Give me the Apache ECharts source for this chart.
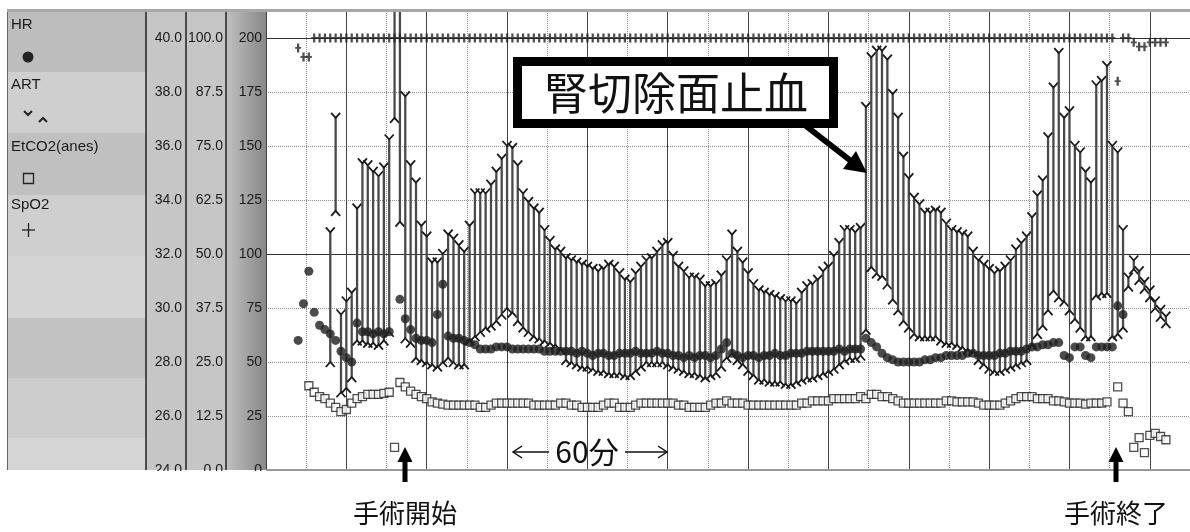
<!DOCTYPE html>
<html>
<head>
<meta charset="utf-8">
<script src="https://cdn.jsdelivr.net/npm/echarts@6/dist/echarts.min.js"></script>
<style>
html, body { margin: 0; padding: 0; background: #fff; }
#main { width: 1190px; height: 532px; }
</style>
</head>
<body>
<div id="main"></div>
<script>
// one reading every 2 min, first one at minute 12
var startMin = 12, stepMin = 2;

// HR (bpm)
var hr = [
  60, 77, 92, 73, 67, 65, 63, 60, 55, 52,
  50, 68, 64, 64, 63, 64, 63, 64, null, 79,
  70, 65, 61, 60, 60, 59, 72, 86, 62, 61,
  61, 60, 59, 58, 56, 56, 56, 57, 57, 57,
  56, 56, 56, 56, 56, 56, 55, 55, 55, 55,
  55, 55, 54, 55, 54, 53, 54, 54, 53, 53,
  54, 54, 54, 55, 54, 54, 54, 55, 54, 54,
  53, 53, 52, 53, 52, 53, 53, 52, 53, 56,
  59, 54, 53, 52, 53, 53, 52, 53, 53, 54,
  53, 53, 54, 54, 54, 55, 55, 55, 55, 55,
  55, 56, 55, 56, 56, 56, 61, 59, 57, 54,
  52, 51, 50, 50, 50, 50, 50, 51, 51, 52,
  52, 53, 53, 53, 53, 54, 54, 53, 53, 53,
  53, 54, 54, 55, 55, 55, 56, 57, 57, 58,
  58, 59, 59, 53, 52, 57, 57, 53, 52, 57,
  57, 57, 57, 76, 72, null, null, null, null, null,
  null, null, null
];

// EtCO2 (mmHg)
var etco2 = [
  null, null, 39, 36, 34, 33, 31, 29, 27, 28,
  31, 33, 34, 35, 35, 35, 35.5, 36, 10.5, 40.5,
  38.5, 36.5, 35, 34, 33, 31.5, 31, 30.5, 30, 30,
  30, 30, 30, 30, 29, 29, 30, 31, 31, 31,
  31, 31, 31, 31, 30, 30, 30, 30, 30, 31,
  31, 30, 30, 29, 29, 29, 29, 30, 31, 31,
  29, 29, 29, 30, 31, 31, 31, 31, 31, 31,
  31, 30, 30, 29, 29, 29, 29, 30, 31, 31,
  32, 31, 31, 31, 30, 30, 30, 30, 30, 30,
  30, 30, 30, 30, 31, 31, 32, 32, 32, 32,
  33, 33, 33, 33, 33, 34, 33, 35, 35, 34,
  34, 33, 32, 31, 31, 31, 31, 31, 31, 31,
  31, 32, 32, 31.5, 31.5, 31.5, 31.5, 31, 30, 30,
  30, 30, 31, 32, 33, 34, 34, 34, 33, 33,
  33, 32, 32, 31.5, 31, 31, 31, 30.5, 31, 31,
  31, 31.5, null, 38.5, 31, 27, 10.5, 15, 8, 16,
  17, 15.5, 14
];

// ART systolic / diastolic (mmHg)
var artSys = [
  null, null, null, null, null, null, 110, 163, 72, 78,
  82, 121, 142, 141, 138, 136, 140, 153, 218, 218,
  173, 141, 133, 113, 108, 96, 96, 100, 109, 107,
  104, 101, 113, 128, 128, 128, 132, 138, 144, 150,
  149, 141, 128, 124, 121, 119, 111, 106, 102, 101,
  98, 97, 96, 95, 94, 93, 92, 93, 95, 94,
  91, 88, 87, 91, 94, 97, 98, 101, 104, 105,
  99, 94, 92, 89, 89, 88, 85, 85, 86, 90,
  97, 109, 101, 96, 91, 86, 83, 82, 81, 80,
  79, 78, 78, 77, 82, 85, 86, 88, 92, 94,
  99, 105, 111, 111, 110, 112, 168, 191, 194, 194,
  190, 174, 163, 145, 135, 126, 123, 119, 119, 120,
  119, 114, 111, 110, 109, 108, 101, 97, 95, 93,
  91, 92, 94, 97, 102, 105, 108, 117, 127, 134,
  154, 177, 193, 163, 166, 150, 147, 138, 133, 178,
  180, 187, 150, 147, 111, 89, 97, 92, 87, 83,
  78, 74, 71
];
var artDia = [
  null, null, null, null, null, null, 50, 120, 36, 38,
  43, 60, 60, 59, 59, 58, 60, 64, 163, 115,
  61, 59, 52, 51, 50, 49, 48, 50, 52, 50,
  49, 49, 60, 62, 64, 66, 67, 69, 72, 75,
  73, 69, 66, 64, 62, 61, 60, 59, 58, 56,
  51, 50, 49, 48, 48, 47, 46, 46, 45, 45,
  45, 44, 44, 46, 48, 50, 50, 50, 50, 49,
  48, 47, 46, 45, 45, 44, 43, 44, 45, 48,
  52, 54, 51, 49, 46, 44, 42, 42, 41, 41,
  41, 40, 40, 41, 42, 43, 43, 44, 45, 46,
  47, 49, 51, 52, 52, 53, 65, 94, 91, 90,
  86, 79, 74, 69, 66, 63, 62, 62, 62, 62,
  60, 59, 59, 58, 57, 56, 55, 51, 49, 47,
  46, 46, 47, 48, 49, 50, 51, 58, 63, 67,
  74, 83, 80, 78, 74, 70, 66, 62, 62, 81,
  82, 82, 62, 63, 66, 85, 93, 88, 84, 80,
  75, 71, 68
];

// SpO2 (%)
var spo2 = [
  97.7, 95.6, 95.6, 100, 100, 100, 100, 100, 100, 100,
  100, 100, 100, 100, 100, 100, 100, 100, 100, 100,
  100, 100, 100, 100, 100, 100, 100, 100, 100, 100,
  100, 100, 100, 100, 100, 100, 100, 100, 100, 100,
  100, 100, 100, 100, 100, 100, 100, 100, 100, 100,
  100, 100, 100, 100, 100, 100, 100, 100, 100, 100,
  100, 100, 100, 100, 100, 100, 100, 100, 100, 100,
  100, 100, 100, 100, 100, 100, 100, 100, 100, 100,
  100, 100, 100, 100, 100, 100, 100, 100, 100, 100,
  100, 100, 100, 100, 100, 100, 100, 100, 100, 100,
  100, 100, 100, 100, 100, 100, 100, 100, 100, 100,
  100, 100, 100, 100, 100, 100, 100, 100, 100, 100,
  100, 100, 100, 100, 100, 100, 100, 100, 100, 100,
  100, 100, 100, 100, 100, 100, 100, 100, 100, 100,
  100, 100, 100, 100, 100, 100, 100, 100, 100, 100,
  100, 100, 100, 90, 100, 100, 99, 98, 98, 99,
  99, 99, 99
];

var legendNames = ['HR', 'ART', 'EtCO2(anes)', 'SpO2'];

function pts(arr) {
  var out = [];
  arr.forEach(function (v, i) {
    if (v != null) out.push([startMin + i * stepMin, v]);
  });
  return out;
}

var artData = [];
artSys.forEach(function (s, i) {
  if (s != null && artDia[i] != null) artData.push([startMin + i * stepMin, s, artDia[i]]);
});

function renderArt(params, api) {
  var top = api.coord([api.value(0), api.value(1)]);
  var bot = api.coord([api.value(0), api.value(2)]);
  var x = top[0];
  return {
    type: 'group',
    children: [
      { type: 'line', shape: { x1: x, y1: top[1], x2: x, y2: bot[1] },
        style: { stroke: '#4a4a4a', lineWidth: 2.3 } },
      { type: 'polyline', shape: { points: [[x - 4.5, top[1] - 5], [x, top[1]], [x + 4.5, top[1] - 5]] },
        style: { stroke: '#1a1a1a', fill: 'none', lineWidth: 1.8 } },
      { type: 'polyline', shape: { points: [[x - 4.5, bot[1] + 5], [x, bot[1]], [x + 4.5, bot[1] + 5]] },
        style: { stroke: '#1a1a1a', fill: 'none', lineWidth: 1.8 } }
    ]
  };
}

var cjk = '"Noto Sans CJK JP", sans-serif';
var lat = '"Liberation Sans", Arial, sans-serif';

function band(y1, y2, c) {
  return { type: 'rect', z: -1, silent: true, shape: { x: 7, y: y1, width: 139, height: y2 - y1 }, style: { fill: c } };
}

function upArrow(x) {
  return [
    { type: 'rect', z: 100, shape: { x: x - 2.5, y: 460, width: 5, height: 22 }, style: { fill: '#000' } },
    { type: 'polygon', z: 100, shape: { points: [[x, 447], [x - 7.5, 462], [x + 7.5, 462]] }, style: { fill: '#000' } }
  ];
}

var graphics = [
  // left panel
  { type: 'rect', z: -2, silent: true, shape: { x: 7, y: 10, width: 259, height: 460 }, style: { fill: '#c6c6c6' } },
  band(10, 72, '#bdbdbd'), band(72, 133, '#cfcfcf'), band(133, 195, '#c0c0c0'), band(195, 256, '#cfcfcf'),
  band(256, 318, '#d4d4d4'), band(318, 378, '#c2c2c2'), band(378, 438, '#cccccc'), band(438, 470, '#d6d6d6'),
  { type: 'rect', z: -1, silent: true, shape: { x: 226, y: 10, width: 40, height: 460 },
    style: { fill: new echarts.graphic.LinearGradient(0, 0, 1, 0, [
      { offset: 0, color: '#c0c0c0' }, { offset: 1, color: '#888' }]) } },
  { type: 'line', z: 1, shape: { x1: 146, y1: 10, x2: 146, y2: 470 }, style: { stroke: '#222', lineWidth: 1.5 } },
  { type: 'line', z: 1, shape: { x1: 186, y1: 10, x2: 186, y2: 470 }, style: { stroke: '#222', lineWidth: 1.5 } },
  { type: 'line', z: 1, shape: { x1: 226, y1: 10, x2: 226, y2: 470 }, style: { stroke: '#222', lineWidth: 1.5 } },
  { type: 'line', z: 1, shape: { x1: 7.5, y1: 10, x2: 7.5, y2: 470 }, style: { stroke: '#666', lineWidth: 1 } },
  { type: 'text', z: 5, style: { text: legendNames[0], x: 11, y: 25, verticalAlign: 'middle', font: '15px ' + lat, fill: '#1a1a1a' } },
  { type: 'circle', z: 5, shape: { cx: 28, cy: 57, r: 5.5 }, style: { fill: '#222' } },
  { type: 'text', z: 5, style: { text: legendNames[1], x: 11, y: 85, verticalAlign: 'middle', font: '15px ' + lat, fill: '#1a1a1a' } },
  { type: 'polyline', z: 5, shape: { points: [[24, 111], [28, 115], [32, 111]] }, style: { stroke: '#222', lineWidth: 2, fill: 'none' } },
  { type: 'polyline', z: 5, shape: { points: [[39, 122], [43, 118], [47, 122]] }, style: { stroke: '#222', lineWidth: 2, fill: 'none' } },
  { type: 'text', z: 5, style: { text: legendNames[2], x: 11, y: 147, verticalAlign: 'middle', font: '15px ' + lat, fill: '#1a1a1a' } },
  { type: 'rect', z: 5, shape: { x: 23.5, y: 173.5, width: 10, height: 10 }, style: { stroke: '#222', fill: 'none', lineWidth: 1.3 } },
  { type: 'text', z: 5, style: { text: legendNames[3], x: 11, y: 205, verticalAlign: 'middle', font: '15px ' + lat, fill: '#1a1a1a' } },
  { type: 'line', z: 5, shape: { x1: 22, y1: 230, x2: 35, y2: 230 }, style: { stroke: '#222', lineWidth: 1.3 } },
  { type: 'line', z: 5, shape: { x1: 28.5, y1: 223, x2: 28.5, y2: 237 }, style: { stroke: '#222', lineWidth: 1.3 } },
  // scan borders
  { type: 'rect', z: 50, shape: { x: 7, y: 9, width: 1183, height: 3 }, style: { fill: '#a8a8a8' } },
  { type: 'rect', z: 50, shape: { x: 266, y: 469, width: 924, height: 2 }, style: { fill: '#999' } },
  { type: 'rect', z: 60, shape: { x: 0, y: 471, width: 270, height: 12 }, style: { fill: '#fff' } },
  // annotation box
  { type: 'rect', z: 100, shape: { x: 517.5, y: 61.5, width: 316, height: 62 },
    style: { fill: '#fff', stroke: '#000', lineWidth: 9 } },
  { type: 'text', z: 101, style: { text: '腎切除面止血', x: 676, y: 93, align: 'center', verticalAlign: 'middle',
    font: '44px ' + cjk, fill: '#111' } },
  { type: 'line', z: 100, shape: { x1: 806, y1: 126, x2: 851, y2: 161 }, style: { stroke: '#000', lineWidth: 6 } },
  { type: 'polygon', z: 100, shape: { points: [[867, 173], [856, 151], [843, 169]] }, style: { fill: '#000' } },
  // 60 min marker
  { type: 'line', z: 100, shape: { x1: 513, y1: 452, x2: 549, y2: 452 }, style: { stroke: '#111', lineWidth: 1.5 } },
  { type: 'polyline', z: 100, shape: { points: [[522, 446], [513, 452], [522, 458]] }, style: { stroke: '#111', lineWidth: 1.5, fill: 'none' } },
  { type: 'text', z: 100, style: { text: '60分', x: 587, y: 452, align: 'center', verticalAlign: 'middle', font: '30px ' + cjk, fill: '#111' } },
  { type: 'line', z: 100, shape: { x1: 625, y1: 452, x2: 667, y2: 452 }, style: { stroke: '#111', lineWidth: 1.5 } },
  { type: 'polyline', z: 100, shape: { points: [[658, 446], [667, 452], [658, 458]] }, style: { stroke: '#111', lineWidth: 1.5, fill: 'none' } },
  // start / end of surgery
  { type: 'text', z: 100, style: { text: '手術開始', x: 405, y: 513, align: 'center', verticalAlign: 'middle', font: '26px ' + cjk, fill: '#111' } },
  { type: 'text', z: 100, style: { text: '手術終了', x: 1116, y: 513, align: 'center', verticalAlign: 'middle', font: '26px ' + cjk, fill: '#111' } }
].concat(upArrow(405), upArrow(1116));

var option = {
  animation: false,
  backgroundColor: '#fff',
  grid: { left: 266, right: 0, top: 11, bottom: 62 },
  xAxis: [
    { type: 'value', min: 0, max: 345, interval: 15,
      axisLine: { show: false }, axisTick: { show: false }, axisLabel: { show: false },
      splitLine: { lineStyle: { color: '#8a8a8a', type: 'dotted', width: 1 } } },
    { type: 'value', min: 0, max: 345, interval: 30, position: 'top',
      axisLine: { show: false }, axisTick: { show: false }, axisLabel: { show: false },
      splitLine: { lineStyle: { color: '#444', width: 1 } } }
  ],
  yAxis: [
    { type: 'value', min: 0, max: 212.5, interval: 25, position: 'left', offset: 0,
      axisLine: { show: false }, axisTick: { show: false },
      axisLabel: { color: '#1a1a1a', fontSize: 14, fontFamily: lat, margin: 4, showMaxLabel: false },
      splitLine: { lineStyle: { color: '#8a8a8a', type: 'dotted', width: 1 } } },
    { type: 'value', min: 0, max: 106.25, interval: 12.5, position: 'left', offset: 39,
      axisLine: { show: false }, axisTick: { show: false }, splitLine: { show: false },
      axisLabel: { color: '#1a1a1a', fontSize: 14, fontFamily: lat, margin: 4, showMaxLabel: false,
        formatter: function (v) { return v.toFixed(1); } } },
    { type: 'value', min: 24, max: 41, interval: 2, position: 'left', offset: 80,
      axisLine: { show: false }, axisTick: { show: false }, splitLine: { show: false },
      axisLabel: { color: '#1a1a1a', fontSize: 14, fontFamily: lat, margin: 4, showMaxLabel: false,
        formatter: function (v) { return v.toFixed(1); } } },
    { type: 'value', min: 0, max: 212.5, interval: 100, position: 'right',
      axisLine: { show: false }, axisTick: { show: false }, axisLabel: { show: false },
      splitLine: { lineStyle: { color: '#333', width: 1 } } }
  ],
  series: [
    { name: 'ART', type: 'custom', renderItem: renderArt, clip: true, z: 2,
      encode: { x: 0, y: [1, 2] }, data: artData },
    { name: 'EtCO2(anes)', type: 'scatter', z: 3, symbol: 'rect', symbolSize: 8,
      itemStyle: { color: '#fff', borderColor: '#222', borderWidth: 1.3 }, data: pts(etco2) },
    { name: 'SpO2', type: 'scatter', yAxisIndex: 1, z: 3,
      symbol: 'path://M2.5,0h3v10h-3zM0,4h8v2h-8z', symbolSize: [6, 9],
      itemStyle: { color: '#222' }, data: pts(spo2) },
    { name: 'HR', type: 'scatter', z: 4, symbol: 'circle', symbolSize: 9,
      itemStyle: { color: '#1e1e1e' }, data: pts(hr) }
  ],
  graphic: graphics
};

var myChart = echarts.init(document.getElementById('main'));
myChart.setOption(option);
</script>
</body>
</html>
